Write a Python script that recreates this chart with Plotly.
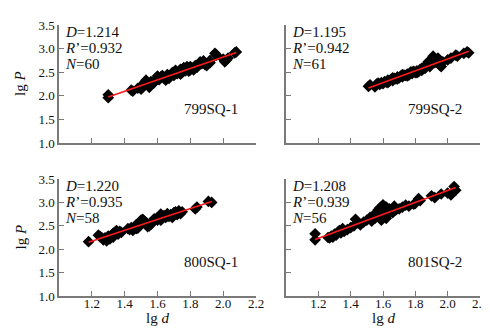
import numpy as np
import plotly.graph_objects as go
from plotly.subplots import make_subplots

# sample names and fit stats
samples = ['799SQ-1', '799SQ-2', '800SQ-1', '801SQ-2']
d_vals = ['1.214', '1.195', '1.220', '1.208']
r_vals = ['0.932', '0.942', '0.935', '0.939']
n_vals = ['60', '61', '58', '56']

# lg d / lg P values
x_799_1 = [1.30, 1.30, 1.44, 1.45, 1.48, 1.50, 1.50, 1.52, 1.53, 1.54, 1.55, 1.56, 1.58, 1.60, 1.60,
           1.61, 1.62, 1.64, 1.66, 1.67, 1.68, 1.69, 1.70, 1.71, 1.72, 1.73, 1.74, 1.75, 1.76, 1.77,
           1.78, 1.79, 1.80, 1.81, 1.82, 1.83, 1.84, 1.86, 1.87, 1.88, 1.89, 1.90, 1.92, 1.95, 1.96,
           2.00, 2.01, 2.02, 2.03, 2.07, 2.08, 1.57, 1.63, 1.65, 1.70, 1.74, 1.78, 1.80, 1.85, 1.92]
y_799_1 = [2.02, 1.96, 2.12, 2.10, 2.16, 2.20, 2.14, 2.28, 2.33, 2.23, 2.18, 2.30, 2.28, 2.38, 2.42,
           2.34, 2.40, 2.38, 2.45, 2.37, 2.42, 2.49, 2.43, 2.54, 2.47, 2.51, 2.56, 2.49, 2.60, 2.53,
           2.56, 2.52, 2.62, 2.58, 2.55, 2.64, 2.60, 2.72, 2.68, 2.74, 2.66, 2.64, 2.70, 2.90, 2.86,
           2.78, 2.72, 2.76, 2.80, 2.91, 2.93, 2.26, 2.43, 2.33, 2.48, 2.46, 2.62, 2.55, 2.65, 2.75]

x_799_2 = [1.51, 1.52, 1.55, 1.56, 1.58, 1.59, 1.60, 1.61, 1.62, 1.63, 1.64, 1.65, 1.66, 1.67, 1.68,
           1.69, 1.70, 1.71, 1.72, 1.73, 1.74, 1.75, 1.76, 1.77, 1.78, 1.79, 1.80, 1.81, 1.82, 1.83,
           1.84, 1.85, 1.86, 1.87, 1.88, 1.89, 1.90, 1.91, 1.92, 1.93, 1.95, 1.96, 1.97, 2.00, 2.02,
           2.05, 2.06, 2.10, 2.12, 2.13, 1.57, 1.63, 1.66, 1.69, 1.72, 1.75, 1.78, 1.81, 1.84, 1.88, 1.94]
y_799_2 = [2.20, 2.23, 2.19, 2.25, 2.24, 2.28, 2.26, 2.30, 2.29, 2.33, 2.31, 2.35, 2.32, 2.37, 2.36,
           2.40, 2.38, 2.42, 2.40, 2.44, 2.43, 2.46, 2.44, 2.50, 2.47, 2.52, 2.49, 2.53, 2.51, 2.56,
           2.54, 2.60, 2.58, 2.66, 2.72, 2.62, 2.78, 2.84, 2.70, 2.75, 2.65, 2.62, 2.72, 2.76, 2.80,
           2.86, 2.84, 2.90, 2.93, 2.91, 2.27, 2.28, 2.38, 2.36, 2.45, 2.42, 2.51, 2.49, 2.58, 2.66, 2.80]

x_800_1 = [1.18, 1.24, 1.25, 1.27, 1.28, 1.29, 1.30, 1.31, 1.32, 1.33, 1.34, 1.35, 1.36, 1.37, 1.43,
           1.44, 1.45, 1.46, 1.47, 1.48, 1.49, 1.50, 1.51, 1.52, 1.53, 1.55, 1.56, 1.60, 1.61, 1.62,
           1.63, 1.64, 1.65, 1.66, 1.67, 1.68, 1.69, 1.70, 1.71, 1.72, 1.73, 1.74, 1.83, 1.84, 1.91,
           1.93, 1.26, 1.33, 1.38, 1.42, 1.47, 1.50, 1.54, 1.58, 1.62, 1.66, 1.70, 1.75]
y_800_1 = [2.16, 2.30, 2.27, 2.20, 2.24, 2.18, 2.28, 2.22, 2.30, 2.26, 2.36, 2.40, 2.32, 2.38, 2.42,
           2.46, 2.40, 2.48, 2.52, 2.45, 2.58, 2.55, 2.64, 2.60, 2.57, 2.50, 2.53, 2.62, 2.70, 2.75,
           2.66, 2.72, 2.68, 2.76, 2.70, 2.74, 2.68, 2.78, 2.80, 2.74, 2.82, 2.76, 2.86, 2.90, 3.02,
           3.00, 2.25, 2.34, 2.36, 2.44, 2.44, 2.62, 2.48, 2.65, 2.62, 2.71, 2.72, 2.80]

x_801_2 = [1.18, 1.18, 1.26, 1.27, 1.28, 1.29, 1.30, 1.31, 1.32, 1.33, 1.34, 1.35, 1.36, 1.38, 1.40,
           1.42, 1.43, 1.44, 1.46, 1.48, 1.50, 1.52, 1.54, 1.55, 1.56, 1.57, 1.58, 1.58, 1.59, 1.60,
           1.61, 1.62, 1.63, 1.64, 1.65, 1.66, 1.68, 1.70, 1.72, 1.74, 1.76, 1.79, 1.80, 1.82, 1.83,
           1.90, 1.92, 1.96, 2.00, 2.02, 2.04, 2.05, 1.53, 1.60, 1.62, 1.67]
y_801_2 = [2.33, 2.20, 2.25, 2.24, 2.28, 2.26, 2.32, 2.30, 2.36, 2.40, 2.35, 2.44, 2.38, 2.42, 2.46,
           2.50, 2.64, 2.56, 2.52, 2.58, 2.62, 2.68, 2.72, 2.66, 2.78, 2.84, 2.74, 2.88, 2.62, 2.80,
           2.70, 2.90, 2.76, 2.86, 2.82, 2.78, 2.84, 2.86, 2.90, 2.94, 2.92, 2.96, 2.98, 3.08, 3.04,
           3.14, 3.10, 3.18, 3.20, 3.16, 3.34, 3.26, 2.60, 2.95, 2.66, 2.92]

xs = [x_799_1, x_799_2, x_800_1, x_801_2]
ys = [y_799_1, y_799_2, y_800_1, y_801_2]

x_ticks = [1.2, 1.4, 1.6, 1.8, 2.0, 2.2]
y_ticks = [1.0, 1.5, 2.0, 2.5, 3.0, 3.5]

FONT = 'Liberation Serif'
AXIS_GREY = '#7a7a7a'
TXT = '#111'

fig = make_subplots(rows=2, cols=2)

for i in range(4):
    row, col = i // 2 + 1, i % 2 + 1
    fig.add_trace(go.Scatter(
        x=xs[i], y=ys[i], mode='markers',
        marker=dict(symbol='diamond', size=9, color='black', line=dict(width=0)),
        showlegend=False), row=row, col=col)
    # least-squares fit line over the data range
    k, b = np.polyfit(xs[i], ys[i], 1)
    x_fit = [min(xs[i]), max(xs[i])]
    fig.add_trace(go.Scatter(
        x=x_fit, y=[k * v + b for v in x_fit], mode='lines',
        line=dict(color='#ff1a1a', width=1.6), showlegend=False), row=row, col=col)

x_domains = [[51 / 490, 248 / 490], [278 / 490, 472 / 490]]
y_domains = [[1 - 135 / 333, 1 - 17 / 333], [1 - 288 / 333, 1 - 171 / 333]]

axis_common = dict(showgrid=False, zeroline=False, showline=True, linecolor=AXIS_GREY,
                   linewidth=1.5, ticks='inside', ticklen=5, tickwidth=1.3, tickcolor=AXIS_GREY,
                   tickfont=dict(family=FONT, size=13, color=TXT), automargin=False)

for i in range(4):
    r, c = i // 2, i % 2
    suffix = '' if i == 0 else str(i + 1)
    xa = dict(axis_common, range=[1.0, 2.2], tickvals=x_ticks, domain=x_domains[c],
              showticklabels=(r == 1), ticktext=[f'{v:.1f}' for v in x_ticks],
              ticklabelstandoff=-5)
    ya = dict(axis_common, range=[1.0, 3.5], tickvals=y_ticks, domain=y_domains[r],
              showticklabels=(c == 0), ticktext=[f'{v:.1f}' for v in y_ticks])
    fig.layout['xaxis' + suffix].update(xa)
    fig.layout['yaxis' + suffix].update(ya)

    # axis titles
    if r == 1:
        fig.add_annotation(text='lg <i>d</i>', xref='paper', yref='paper',
                           x=sum(x_domains[c]) / 2, y=1 - 310 / 333, showarrow=False,
                           xanchor='center', yanchor='middle',
                           font=dict(family=FONT, size=15, color=TXT))
    if c == 0:
        fig.add_annotation(text='lg <i>P</i>', xref='paper', yref='paper',
                           x=12 / 490, y=sum(y_domains[r]) / 2, showarrow=False, textangle=-90,
                           xanchor='center', yanchor='middle',
                           font=dict(family=FONT, size=15, color=TXT))

    xref = f'x{suffix} domain'
    yref = f'y{suffix} domain'
    lines = [f'<i>D</i>={d_vals[i]}', f'<i>R</i>’={r_vals[i]}', f'<i>N</i>={n_vals[i]}']
    for j, txt in enumerate(lines):
        fig.add_annotation(text=txt, xref=xref, yref=yref, x=0.02, y=0.94 - j * 0.135,
                           xanchor='left', yanchor='middle', showarrow=False,
                           font=dict(family=FONT, size=15, color=TXT))
    fig.add_annotation(text=samples[i], xref=xref, yref=yref, x=0.77, y=0.29,
                       xanchor='center', yanchor='middle', showarrow=False,
                       font=dict(family=FONT, size=15, color=TXT))

fig.update_layout(width=490, height=333, margin=dict(l=0, r=0, t=0, b=0),
                  plot_bgcolor='white', paper_bgcolor='white', template='none',
                  font=dict(family=FONT))

fig.write_html('out.html')
